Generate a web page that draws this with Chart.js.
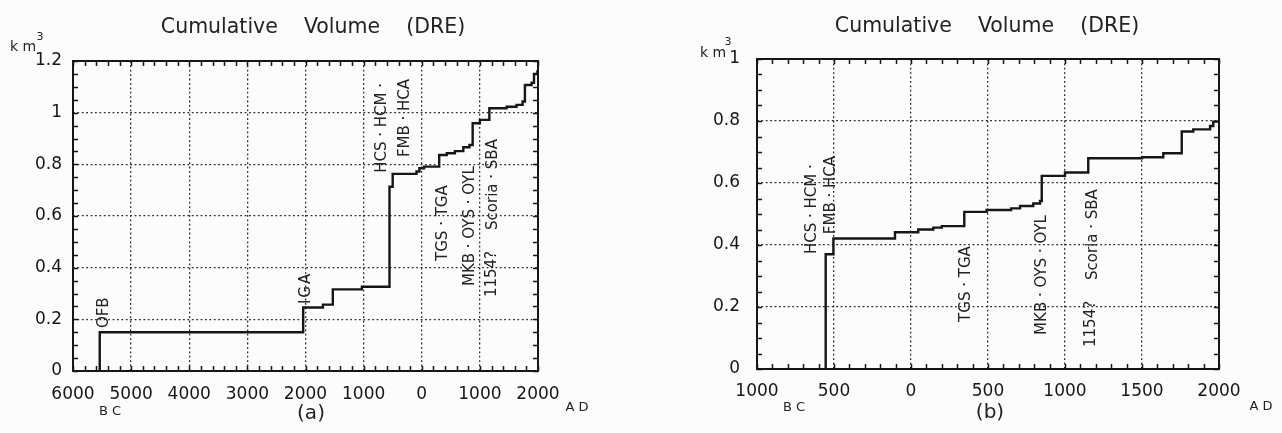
<!DOCTYPE html>
<html>
<head>
<meta charset="utf-8">
<script src="https://cdn.jsdelivr.net/npm/chart.js@4.4.0/dist/chart.umd.min.js"></script>
<style>
  html, body { margin: 0; padding: 0; background: #fcfcfc; }
  body { width: 1282px; height: 433px; position: relative; overflow: hidden; }
  .panel { position: absolute; top: 0; width: 641px; height: 433px; }
  #panel-a { left: 0; }
  #panel-b { left: 641px; }
</style>
</head>
<body>
<div class="panel" id="panel-a"><canvas id="chart-a"></canvas></div>
<div class="panel" id="panel-b"><canvas id="chart-b"></canvas></div>
<script>
// ============================================
// Cumulative Volume (DRE) - (a) 6000BC-2000AD / (b) 1000BC-2000AD
// years: BC is negative
// ============================================

// (a) step points: year where the volume jumps, new cumulative volume (km3)
const yearsA = [-5540, -5540, -2040, -1700, -1530, -1030, -555, -500, -90, -40, 40, 300, 430, 570, 715, 820, 876, 1000, 1163, 1460, 1630, 1735, 1775, 1890, 1931, 1990, 2000];
const volA   = [0, 0.15, 0.246, 0.257, 0.316, 0.326, 0.713, 0.763, 0.772, 0.785, 0.791, 0.836, 0.843, 0.851, 0.866, 0.875, 0.959, 0.972, 1.017, 1.023, 1.03, 1.043, 1.107, 1.116, 1.15, 1.16, 1.16];

// (b) step points
const yearsB = [-554, -554, -504, -104, 47, 145, 200, 346, 491, 650, 708, 794, 838, 849, 1000, 1151, 1500, 1638, 1758, 1833, 1942, 1963, 2000];
const volB   = [0, 0.37, 0.421, 0.441, 0.45, 0.456, 0.461, 0.507, 0.513, 0.518, 0.526, 0.534, 0.542, 0.623, 0.634, 0.68, 0.683, 0.696, 0.766, 0.773, 0.784, 0.798, 0.805];

// axis ticks and labels
const xTicksA  = [-6000, -5000, -4000, -3000, -2000, -1000, 0, 1000, 2000];
const xLabelsA = ['6000', '5000', '4000', '3000', '2000', '1000', '0', '1000', '2000'];
const yTicksA  = [0, 0.2, 0.4, 0.6, 0.8, 1, 1.2];
const yLabelsA = ['0', '0.2', '0.4', '0.6', '0.8', '1', '1.2'];

const xTicksB  = [-1000, -500, 0, 500, 1000, 1500, 2000];
const xLabelsB = ['1000', '500', '0', '500', '1000', '1500', '2000'];
const yTicksB  = [0, 0.2, 0.4, 0.6, 0.8, 1];
const yLabelsB = ['0', '0.2', '0.4', '0.6', '0.8', '1'];

// eruption labels (text, year, volume at the bottom of the vertical text)
const eventsA = [
  { text: 'OFB', year: -5467, vol: 0.166 },
  { text: 'IGA', year: -1991, vol: 0.259, spacing: 2 },
  { text: 'HCS · HCM ·', year: -684, vol: 0.767 },
  { text: 'FMB · HCA', year: -288, vol: 0.828 },
  { text: 'TGS · TGA', year: 366, vol: 0.426 },
  { text: 'MKB · OYS · OYL', year: 830, vol: 0.329 },
  { text: '1154?', year: 1209, vol: 0.286 },
  { text: 'Scoria · SBA', year: 1226, vol: 0.546 },
];
const eventsB = [
  { text: 'HCS · HCM ·', year: -643, vol: 0.371 },
  { text: 'FMB · HCA', year: -519, vol: 0.435 },
  { text: 'TGS · TGA', year: 357, vol: 0.152 },
  { text: 'MKB · OYS · OYL', year: 851, vol: 0.11 },
  { text: '1154?', year: 1169, vol: 0.071 },
  { text: 'Scoria · SBA', year: 1182, vol: 0.287 },
];

const INK = '#161616';
const FONT = '"DejaVu Sans", Verdana, sans-serif';
const TICK = 5;

// frame, inward minor ticks, vertical labels, titles
const decor = {
  id: 'decor',
  afterDatasetsDraw(chart, args, o) {
    const { ctx, chartArea: a, scales: { x, y } } = chart;
    ctx.save();

    ctx.strokeStyle = INK;
    ctx.lineWidth = 1.5;
    ctx.beginPath();
    const nx = Math.round((x.max - x.min) / o.xMinor);
    for (let i = 0; i <= nx; i++) {
      const px = Math.round(x.getPixelForValue(x.min + i * o.xMinor)) + 0.5;
      ctx.moveTo(px, a.bottom); ctx.lineTo(px, a.bottom - TICK);
      ctx.moveTo(px, a.top); ctx.lineTo(px, a.top + TICK);
    }
    const ny = Math.round((y.max - y.min) / o.yMinor);
    for (let i = 0; i <= ny; i++) {
      const py = Math.round(y.getPixelForValue(y.min + i * o.yMinor)) + 0.5;
      ctx.moveTo(a.left, py); ctx.lineTo(a.left + TICK, py);
      ctx.moveTo(a.right, py); ctx.lineTo(a.right - TICK, py);
    }
    ctx.stroke();

    ctx.lineWidth = 2;
    ctx.strokeRect(a.left, a.top, a.right - a.left, a.bottom - a.top);

    // vertical eruption names
    ctx.fillStyle = '#222';
    ctx.font = `15px ${FONT}`;
    ctx.textAlign = 'left';
    ctx.textBaseline = 'middle';
    o.events.forEach(ev => {
      ctx.save();
      ctx.translate(x.getPixelForValue(ev.year), y.getPixelForValue(ev.vol));
      ctx.rotate(-Math.PI / 2);
      ctx.letterSpacing = (ev.spacing || 0) + 'px';
      ctx.fillText(ev.text, 0, 0);
      ctx.restore();
    });

    // titles and axis notes
    ctx.textAlign = 'center';
    o.texts.forEach(t => {
      ctx.font = `${t.size}px ${FONT}`;
      ctx.fillText(t.text, t.x, t.y);
    });

    ctx.restore();
  },
};

function makeChart(id, c) {
  return new Chart(document.getElementById(id), {
    type: 'line',
    data: {
      datasets: [{
        data: c.years.map((yr, i) => ({ x: yr, y: c.vols[i] })),
        stepped: 'before',   // horizontal, then the jump at the next year
        borderColor: INK,
        borderWidth: 2.4,
        pointRadius: 0,
        fill: false,
      }],
    },
    options: {
      responsive: true,
      maintainAspectRatio: false,
      animation: false,
      layout: { padding: c.pad },
      plugins: {
        legend: { display: false },
        title: { display: false },
        tooltip: { enabled: false },
        decor: { xMinor: c.xMinor, yMinor: c.yMinor, events: c.events, texts: c.texts },
      },
      scales: {
        x: {
          type: 'linear',
          min: c.xTicks[0],
          max: c.xTicks[c.xTicks.length - 1],
          afterBuildTicks: s => { s.ticks = c.xTicks.map(v => ({ value: v })); },
          afterFit: s => { s.height = c.xH; },
          ticks: {
            callback: (v, i) => c.xLabels[i],
            color: INK,
            font: { family: FONT, size: 17 },
            padding: c.xPad,
            maxRotation: 0,
            autoSkip: false,
          },
          grid: { color: '#2a2a2a', lineWidth: 1.3, drawTicks: false },
          border: { display: false, dash: [1.8, 2.6] },
        },
        y: {
          type: 'linear',
          min: c.yTicks[0],
          max: c.yTicks[c.yTicks.length - 1],
          afterBuildTicks: s => { s.ticks = c.yTicks.map(v => ({ value: v })); },
          afterFit: s => { s.width = c.yW; },
          ticks: {
            callback: (v, i) => c.yLabels[i],
            color: INK,
            font: { family: FONT, size: 17 },
            padding: c.yPad,
          },
          grid: { color: '#2a2a2a', lineWidth: 1.3, drawTicks: false },
          border: { display: false, dash: [1.8, 2.6] },
        },
      },
    },
    plugins: [decor],
  });
}

makeChart('chart-a', {
  years: yearsA, vols: volA,
  xTicks: xTicksA, xLabels: xLabelsA, yTicks: yTicksA, yLabels: yLabelsA,
  xMinor: 200, yMinor: 0.05,
  pad: { left: 0, top: 61, right: 103, bottom: 0 },
  yW: 73, xH: 62, xPad: 13, yPad: 11,
  events: eventsA,
  texts: [
    { text: 'Cumulative    Volume    (DRE)', x: 313, y: 28, size: 20.5 },
    { text: 'k m', x: 23, y: 47, size: 14 },
    { text: '3', x: 40, y: 37, size: 11 },
    { text: 'B C', x: 110, y: 412, size: 13 },
    { text: 'A D', x: 577, y: 408, size: 13 },
    { text: '(a)', x: 311, y: 414, size: 20 },
  ],
});

makeChart('chart-b', {
  years: yearsB, vols: volB,
  xTicks: xTicksB, xLabels: xLabelsB, yTicks: yTicksB, yLabels: yLabelsB,
  xMinor: 100, yMinor: 0.05,
  pad: { left: 0, top: 59, right: 63, bottom: 0 },
  yW: 116, xH: 64, xPad: 12, yPad: 17,
  events: eventsB,
  texts: [
    { text: 'Cumulative    Volume    (DRE)', x: 346, y: 27, size: 20.5 },
    { text: 'k m', x: 72, y: 53, size: 14 },
    { text: '3', x: 87, y: 42, size: 11 },
    { text: 'B C', x: 153, y: 408, size: 13 },
    { text: 'A D', x: 620, y: 407, size: 13 },
    { text: '(b)', x: 349, y: 413, size: 20 },
  ],
});
</script>
</body>
</html>
